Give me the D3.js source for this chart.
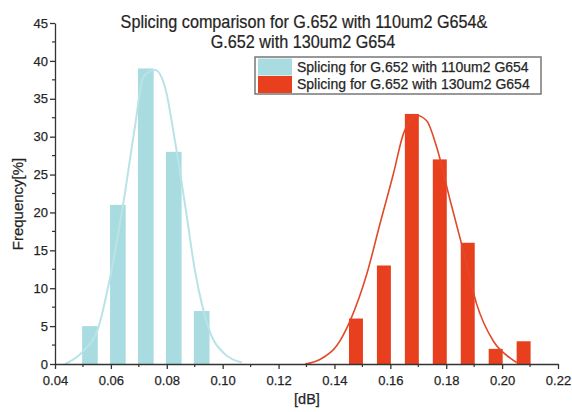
<html lang="en">
<head>
<meta charset="utf-8">
<title>Splicing comparison</title>
<style>
  body { margin: 0; background: #fff; font-family: "Liberation Sans", Arial, sans-serif; }
  .axis path, .axis line { stroke: #333; stroke-width: 1.3px; }
  .axis text { font-size: 13px; fill: #1a1a1a; font-family: "Liberation Sans", Arial, sans-serif; }
  text { stroke: #333; stroke-width: 0.25px; }
</style>
</head>
<body>
<div id="chart"></div>
<script src="https://d3js.org/d3.v7.min.js"></script>
<script>
// bin centres [dB] and frequencies [%]
var blueBins = [0.0525, 0.0625, 0.0725, 0.0825, 0.0925];
var blueFreq = [5, 21, 39, 28, 7];
var redBins = [0.1477, 0.1577, 0.1677, 0.1777, 0.1877, 0.1977, 0.2077];
var redFreq = [6, 13, 33, 27, 16, 2, 3];

// fitted curves
var blueFitX = [0.0436, 0.0501, 0.0555, 0.0597, 0.0644, 0.0686, 0.0716, 0.0758, 0.0794, 0.0829, 0.0865, 0.0901, 0.0949, 0.1008, 0.1068];
var blueFitY = [0, 1.7, 4.8, 11.4, 21.1, 31.3, 37.9, 38.8, 36.5, 29.5, 21.1, 12.3, 4.8, 1.3, 0.2];
var redFitX = [0.1295, 0.1348, 0.1408, 0.1456, 0.1516, 0.1563, 0.1611, 0.1647, 0.1695, 0.1730, 0.1766, 0.1814, 0.1861, 0.1909, 0.1969, 0.2028, 0.2052];
var redFitY = [0, 0.6, 2.4, 5.7, 11.9, 18.5, 25.1, 30.4, 32.8, 32.1, 28.6, 21.6, 15, 7.9, 3, 0.8, 0.2];

var seriesNames = ["Splicing for G.652 with 110um2 G654", "Splicing for G.652 with 130um2 G654"];
var titleLines = ["Splicing comparison for G.652 with 110um2 G654&", "G.652 with 130um2 G654"];

var width = 572, height = 412;
var blue = "#a9dce1", blueLine = "#b9e3e7";
var red = "#e8401e", redLine = "#e2492a";

var svg = d3.select("#chart").append("svg")
  .attr("width", width).attr("height", height);

var x = d3.scaleLinear().domain([0.04, 0.22]).range([55, 558]);
var y = d3.scaleLinear().domain([0, 45]).range([364, 23]);

// minor ticks
var g = svg.append("g");
g.selectAll(".xminor").data(d3.range(0.05, 0.22, 0.02))
  .enter().append("line")
  .attr("x1", function(d){ return x(d); }).attr("x2", function(d){ return x(d); })
  .attr("y1", y(0)).attr("y2", y(0) + 3)
  .attr("stroke", "#333").attr("stroke-width", 1.2);
g.selectAll(".yminor").data(d3.range(2.5, 45, 5))
  .enter().append("line")
  .attr("x1", x(0.04) - 3).attr("x2", x(0.04))
  .attr("y1", function(d){ return y(d); }).attr("y2", function(d){ return y(d); })
  .attr("stroke", "#333").attr("stroke-width", 1.2);

// bars
svg.append("g").selectAll("rect").data(blueBins)
  .enter().append("rect")
  .attr("x", function(d){ return x(d - 0.0028); })
  .attr("width", function(d){ return x(d + 0.0028) - x(d - 0.0028); })
  .attr("y", function(d, i){ return y(blueFreq[i]); })
  .attr("height", function(d, i){ return y(0) - y(blueFreq[i]); })
  .attr("fill", blue);

svg.append("g").selectAll("rect").data(redBins)
  .enter().append("rect")
  .attr("x", function(d){ return x(d - 0.0025); })
  .attr("width", function(d){ return x(d + 0.0025) - x(d - 0.0025); })
  .attr("y", function(d, i){ return y(redFreq[i]); })
  .attr("height", function(d, i){ return y(0) - y(redFreq[i]); })
  .attr("fill", red);

// fit lines
var line = d3.line()
  .x(function(d){ return x(d[0]); })
  .y(function(d){ return y(d[1]); })
  .curve(d3.curveMonotoneX);

svg.append("path")
  .attr("d", line(d3.zip(blueFitX, blueFitY)))
  .attr("fill", "none").attr("stroke", blueLine).attr("stroke-width", 2);
svg.append("path")
  .attr("d", line(d3.zip(redFitX, redFitY)))
  .attr("fill", "none").attr("stroke", redLine).attr("stroke-width", 1.6);

// axes
svg.append("g").attr("class", "axis")
  .attr("transform", "translate(0," + y(0) + ")")
  .call(d3.axisBottom(x).tickValues(d3.range(0.04, 0.2201, 0.02))
    .tickFormat(d3.format(".2f")).tickSize(5).tickSizeOuter(0))
  .selectAll("text").attr("y", 9).attr("dy", "0.9em").attr("font-size", 13);

svg.append("g").attr("class", "axis")
  .attr("transform", "translate(" + x(0.04) + ",0)")
  .call(d3.axisLeft(y).tickValues(d3.range(0, 46, 5)).tickSize(5).tickSizeOuter(0))
  .selectAll("text").attr("x", -7).attr("font-size", 13);

// axis titles
svg.append("text")
  .attr("x", 307).attr("y", 404)
  .attr("text-anchor", "middle")
  .attr("font-size", 14.5).attr("fill", "#222")
  .text("[dB]");

svg.append("text")
  .attr("transform", "translate(23,204) rotate(-90)")
  .attr("text-anchor", "middle")
  .attr("font-size", 15).attr("fill", "#222")
  .text("Frequency[%]");

// title
svg.append("g").selectAll("text").data(titleLines)
  .enter().append("text")
  .attr("transform", function(d, i){
    return "translate(" + (i == 0 ? 304 : 303) + "," + (28 + i * 20) + ") scale(0.9,1)";
  })
  .attr("text-anchor", "middle")
  .attr("font-size", 18).attr("fill", "#222")
  .text(function(d){ return d; });

// legend
var legend = svg.append("g").attr("transform", "translate(255,57)");
legend.append("rect")
  .attr("width", 286).attr("height", 37)
  .attr("fill", "#fff").attr("stroke", "#777").attr("stroke-width", 1.5);
var rows = legend.selectAll(".row").data(seriesNames)
  .enter().append("g")
  .attr("transform", function(d, i){ return "translate(0," + (i * 17.5) + ")"; });
rows.append("rect")
  .attr("x", 3).attr("y", 1.5).attr("width", 34).attr("height", 17)
  .attr("fill", function(d, i){ return i == 0 ? blue : red; });
rows.append("text")
  .attr("x", 42).attr("y", 14.5)
  .attr("font-size", 14).attr("fill", "#222")
  .text(function(d){ return d; });
</script>
</body>
</html>
